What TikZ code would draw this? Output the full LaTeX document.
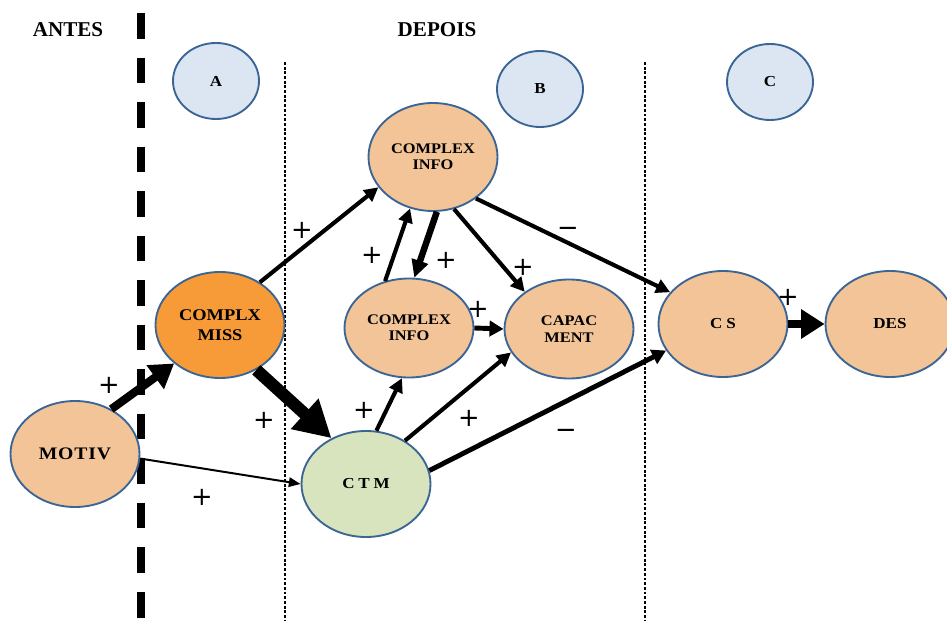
\documentclass[tikz,border=0pt]{standalone}
\usepackage{fontspec}
\setmainfont{Liberation Serif}
\newfontfamily\lblfont{Liberation Serif}[FakeStretch=1.12]
\newfontfamily\lblfontsp{Liberation Serif}[FakeStretch=1.12,LetterSpace=5]
\newfontfamily\lblfontwide{Liberation Serif}[FakeStretch=1.12,LetterSpace=25]
\newfontfamily\signfont{DejaVu Sans}
\usetikzlibrary{shapes.geometric,arrows.meta}
\definecolor{nodetan}{HTML}{F2C497}
\definecolor{nodeorange}{HTML}{F79A38}
\definecolor{nodegreen}{HTML}{D7E4BD}
\definecolor{nodeblue}{HTML}{DCE6F2}
\definecolor{bordblue}{HTML}{3B6595}
\begin{document}
\begin{tikzpicture}[x=0.03cm,y=-0.03cm,
  bub/.style={ellipse, draw=bordblue, line width=1.6pt, inner sep=0pt, align=center,
    minimum width=3.87cm, minimum height=3.18cm,
    font=\lblfont\bfseries\fontsize{12.5}{14}\selectfont},
  bubsmall/.style={bub, minimum height=2.97cm},
  letter/.style={ellipse, draw=bordblue, line width=1.6pt, inner sep=0pt, fill=nodeblue,
    minimum width=2.58cm, minimum height=2.28cm,
    font=\lblfont\bfseries\fontsize{13}{15}\selectfont},
  heading/.style={font=\bfseries\fontsize{18}{20}\selectfont, inner sep=0pt},
  sign/.style={font=\signfont\fontsize{22}{22}\selectfont, inner sep=0pt},
  thinarr/.style={line width=1.7pt, -{Triangle[length=10pt,width=8pt]}},
  medarr/.style={line width=3.5pt, -{Triangle[length=12pt,width=12pt]}},
  medarrb/.style={line width=4.2pt, -{Triangle[length=12pt,width=13pt]}},
  thickarr/.style={line width=5.5pt, -{Triangle[length=15pt,width=14pt]}},
  bigarr/.style={line width=7pt, -{Triangle[length=20pt,width=24pt]}},
  hugearr/.style={line width=10.5pt, -{Triangle[length=31pt,width=33pt]}},
  sepdash/.style={line width=6pt, dash pattern=on 22pt off 16pt},
  sepdot/.style={line width=1.6pt, dash pattern=on 2.5pt off 1.5pt}
]
\useasboundingbox (0,0) rectangle (947,621);

% separators
\draw[sepdash] (141,13) -- (141,621);
\draw[sepdot] (285,62) -- (285,621);
\draw[sepdot] (645,62) -- (645,621);

% headings
\node[heading] (antes) at (68,30) {ANTES};
\node[heading] (depois) at (437,30) {DEPOIS};

% letter bubbles
\node[letter] (A) at (216,81) {A};
\node[letter] (B) at (540,89) {B};
\node[letter] (C) at (770,82) {C};

% main nodes
\node[bub, fill=nodetan, font=\lblfontsp\bfseries\fontsize{15}{17}\selectfont] (motiv) at (75,454) {MOTIV};
\node[bub, fill=nodeorange, font=\lblfont\bfseries\fontsize{14}{17.5}\selectfont] (cmiss) at (220,325) {COMPLX\\MISS};
\node[bub, fill=nodetan, minimum height=3.24cm] (topinfo) at (433,157) {COMPLEX\\INFO};
\node[bubsmall, fill=nodetan] (midinfo) at (409,328) {COMPLEX\\INFO};
\node[bubsmall, fill=nodetan] (capac) at (569,329) {CAPAC\\MENT};
\node[bub, fill=nodegreen, font=\lblfontwide\bfseries\fontsize{13}{15}\selectfont] (ctm) at (366,484) {CTM};
\node[bub, fill=nodetan, font=\lblfontwide\bfseries\fontsize{13}{15}\selectfont] (cs) at (723,324) {CS};
\node[bub, fill=nodetan, font=\lblfont\bfseries\fontsize{13}{15}\selectfont] (des) at (890,324) {DES};

% connectors
\draw[bigarr] (motiv.51) -- (cmiss.220);
\draw[hugearr] (cmiss.309) -- (ctm.127);
\draw[thinarr] (motiv.-4) -- (ctm.180);
\draw[medarr] (cmiss.47) -- (topinfo.209);
\draw[medarr] (midinfo.117) -- (topinfo.246);
\draw[thickarr] (topinfo.274) -- (midinfo.84);
\draw[medarr] (topinfo.292) -- (capac.140);
\draw[medarr] (topinfo.316) -- (cs.149);
\draw[medarrb] (midinfo.0) -- (capac.180);
\draw[medarr] (ctm.79) -- (midinfo.262);
\draw[medarr] (ctm.48) -- (capac.202);
\draw[medarrb] (ctm.12) -- (cs.205);
\draw[bigarr] (cs.0) -- (des.180);

% signs
\node[sign] (s1) at (109,385) {+};
\node[sign] (s2) at (264,420) {+};
\node[sign] (s3) at (202,497) {+};
\node[sign] (s4) at (302,230) {+};
\node[sign] (s5) at (372,255) {+};
\node[sign] (s6) at (446,260) {+};
\node[sign] (s7) at (523,267) {+};
\node[sign] (s8) at (478,309) {+};
\node[sign] (s9) at (364,410) {+};
\node[sign] (s10) at (469,418) {+};
\node[sign] (s11) at (566,434) {−};
\node[sign] (s12) at (568,232) {−};
\node[sign] (s13) at (788,297) {+};
\end{tikzpicture}
\end{document}
